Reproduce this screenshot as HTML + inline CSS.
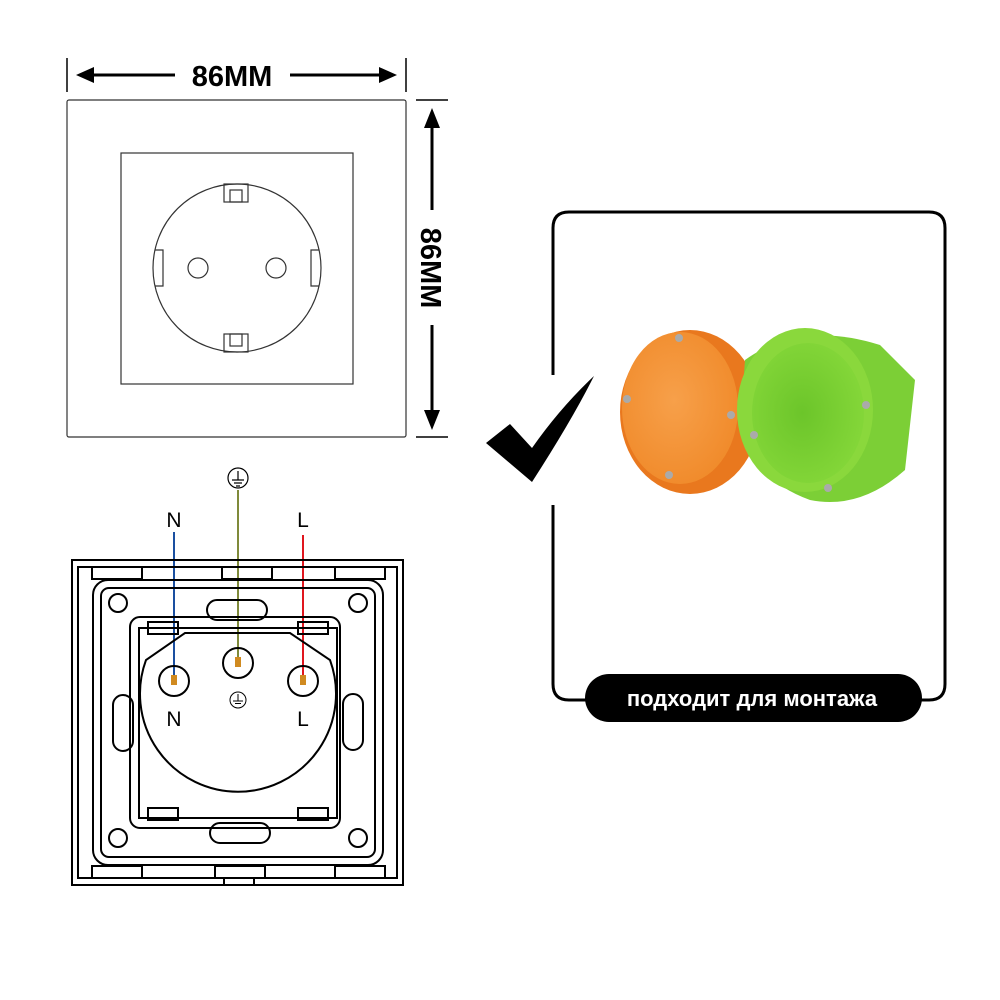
<!DOCTYPE html>
<html><head><meta charset="utf-8"><style>body{margin:0;background:#fff}svg{display:block}</style></head><body>
<svg width="1000" height="1000" viewBox="0 0 1000 1000" xmlns="http://www.w3.org/2000/svg" font-family="Liberation Sans, sans-serif">
<defs>
<radialGradient id="og" cx="0.45" cy="0.45" r="0.6"><stop offset="0" stop-color="#f7a04a"/><stop offset="1" stop-color="#f08a2a"/></radialGradient>
<radialGradient id="gg" cx="0.45" cy="0.5" r="0.6"><stop offset="0" stop-color="#6cc52a"/><stop offset="1" stop-color="#86d83a"/></radialGradient>
</defs>
<g stroke="#000" stroke-width="1.5">
<line x1="67" y1="58" x2="67" y2="92"/><line x1="406" y1="58" x2="406" y2="92"/>
<line x1="416" y1="100" x2="448" y2="100"/><line x1="416" y1="437" x2="448" y2="437"/>
</g>
<g stroke="#000" stroke-width="3">
<line x1="90" y1="75" x2="175" y2="75"/><line x1="290" y1="75" x2="383" y2="75"/>
<line x1="432" y1="125" x2="432" y2="210"/><line x1="432" y1="325" x2="432" y2="412"/>
</g>
<path d="M76,75 L94,67 L94,83Z M397,75 L379,67 L379,83Z M432,108 L424,128 L440,128Z M432,430 L424,410 L440,410Z" fill="#000"/>
<text x="232" y="86" font-size="29" font-weight="bold" text-anchor="middle">86MM</text>
<text transform="translate(421,268) rotate(90)" font-size="29" font-weight="bold" text-anchor="middle">86MM</text>
<g fill="none" stroke="#333" stroke-width="1.2">
<rect x="67" y="100" width="339" height="337" rx="2"/>
<rect x="121" y="153" width="232" height="231"/>
<circle cx="237" cy="268" r="84"/>
<circle cx="198" cy="268" r="10"/><circle cx="276" cy="268" r="10"/>
<path d="M155,250 h8 v36 h-8 M319,250 h-8 v36 h8"/>
<rect x="224" y="184" width="24" height="18"/><rect x="230" y="190" width="12" height="12"/>
<rect x="224" y="334" width="24" height="18"/><rect x="230" y="334" width="12" height="12"/>
</g>
<path d="M553,375 V228 Q553,212 569,212 H929 Q945,212 945,228 V684 Q945,700 929,700 H569 Q553,700 553,684 V505" fill="none" stroke="#000" stroke-width="3"/>
<rect x="585" y="674" width="337" height="48" rx="24" fill="#000"/>
<text x="752" y="706" font-size="22" font-weight="bold" fill="#fff" text-anchor="middle">подходит для монтажа</text>
<path d="M486,443 L510,424 L532,448 Q560,408 594,376 Q572,420 532,482 Z" fill="#000"/>
<ellipse cx="690" cy="412" rx="70" ry="82" fill="#e9781e"/>
<ellipse cx="680" cy="408" rx="58" ry="76" fill="url(#og)"/>
<path d="M745,360 Q800,320 880,345 L915,380 L905,470 Q860,510 810,500 Q755,480 740,430Z" fill="#7ccf36"/>
<ellipse cx="805" cy="410" rx="68" ry="82" fill="#8ad83c"/>
<ellipse cx="808" cy="413" rx="56" ry="70" fill="url(#gg)"/>
<circle cx="679" cy="338" r="4" fill="#aaa"/><circle cx="627" cy="399" r="4" fill="#aaa"/><circle cx="731" cy="415" r="4" fill="#aaa"/><circle cx="669" cy="475" r="4" fill="#aaa"/>
<circle cx="754" cy="435" r="4" fill="#aaa"/><circle cx="866" cy="405" r="4" fill="#aaa"/><circle cx="828" cy="488" r="4" fill="#aaa"/>
<circle cx="238" cy="478" r="10" fill="none" stroke="#000" stroke-width="1.2"/>
<path d="M238,471 v9 M232,480 h12 M234,483 h8 M236,486 h4" stroke="#000" stroke-width="1.2"/>
<text x="174" y="527" font-size="21" text-anchor="middle">N</text>
<text x="303" y="527" font-size="21" text-anchor="middle">L</text>
<line x1="174" y1="532" x2="174" y2="681" stroke="#1a4fa0" stroke-width="2"/>
<line x1="238" y1="490" x2="238" y2="663" stroke="#7f8a3a" stroke-width="2"/>
<line x1="303" y1="535" x2="303" y2="681" stroke="#e0161e" stroke-width="2"/>
<g fill="none" stroke="#000" stroke-width="2">
<rect x="72" y="560" width="331" height="325"/>
<rect x="78" y="567" width="319" height="311"/>
<rect x="93" y="580" width="290" height="285" rx="15"/>
<rect x="101" y="588" width="274" height="269" rx="8"/>
<rect x="139" y="628" width="198" height="190"/>
<path d="M185,633 L290,633 L330,660 A98,98 0 1 1 146,660 Z"/>
<circle cx="174" cy="681" r="15"/><circle cx="238" cy="663" r="15"/><circle cx="303" cy="681" r="15"/>
<circle cx="118" cy="603" r="9"/><circle cx="358" cy="603" r="9"/><circle cx="118" cy="838" r="9"/><circle cx="358" cy="838" r="9"/>
<rect x="207" y="600" width="60" height="20" rx="10"/><rect x="210" y="823" width="60" height="20" rx="10"/>
<rect x="113" y="695" width="20" height="56" rx="10"/><rect x="343" y="694" width="20" height="56" rx="10"/>
<rect x="130" y="617" width="210" height="211" rx="10"/>
<path d="M92,567 h50 v12 h-50z M222,567 h50 v12 h-50z M335,567 h50 v12 h-50z M92,866 h50 v12 h-50z M215,866 h50 v12 h-50z M335,866 h50 v12 h-50z M224,878 h30 v7 h-30z"/>
<path d="M148,622 h30 v12 h-30z M298,622 h30 v12 h-30z M148,808 h30 v12 h-30z M298,808 h30 v12 h-30z"/>
</g>
<rect x="171" y="675" width="6" height="10" fill="#d08a20"/><rect x="235" y="657" width="6" height="10" fill="#d08a20"/><rect x="300" y="675" width="6" height="10" fill="#d08a20"/>
<circle cx="238" cy="700" r="8" fill="none" stroke="#000"/>
<path d="M238,694 v7 M233,701 h10 M235,703.5 h6" stroke="#000"/>
<text x="174" y="726" font-size="21" text-anchor="middle">N</text>
<text x="303" y="726" font-size="21" text-anchor="middle">L</text>
</svg>
</body></html>
